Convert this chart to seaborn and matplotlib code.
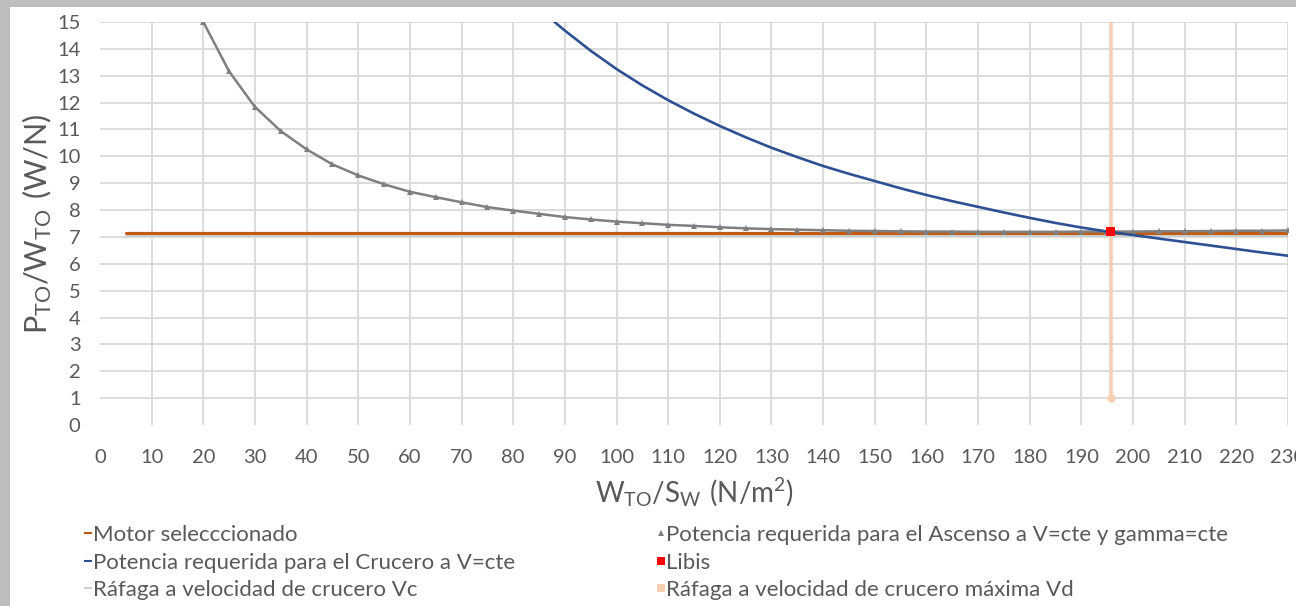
import seaborn as sns
import matplotlib.pyplot as plt
import pandas as pd
from matplotlib.lines import Line2D
from matplotlib.patches import Rectangle

# values
ascenso_x = [20, 25, 30, 35, 40, 45, 50, 55, 60, 65, 70, 75, 80, 85, 90, 95, 100, 105, 110, 115,
             120, 125, 130, 135, 140, 145, 150, 155, 160, 165, 170, 175, 180, 185, 190, 195, 200,
             205, 210, 215, 220, 225, 230]
ascenso_y = [15.0, 13.16, 11.84, 10.94, 10.26, 9.70, 9.29, 8.96, 8.68, 8.48, 8.29, 8.11, 7.98, 7.86,
             7.74, 7.65, 7.57, 7.51, 7.45, 7.41, 7.36, 7.32, 7.29, 7.27, 7.25, 7.23, 7.22, 7.21, 7.20,
             7.20, 7.19, 7.19, 7.19, 7.19, 7.20, 7.20, 7.20, 7.21, 7.21, 7.22, 7.23, 7.23, 7.24]

crucero_x = [88, 90, 95, 100, 105, 110, 115, 120, 125, 130, 135, 140, 145, 150, 155, 160, 165, 170,
             175, 180, 185, 190, 195, 200, 205, 210, 215, 220, 225, 230]
crucero_y = [15.0, 14.68, 13.93, 13.25, 12.64, 12.09, 11.59, 11.13, 10.71, 10.32, 9.97, 9.64, 9.35,
             9.08, 8.81, 8.56, 8.33, 8.12, 7.91, 7.71, 7.52, 7.35, 7.20, 7.07, 6.94, 6.81, 6.68,
             6.55, 6.42, 6.30]

motor_x = [5, 230]
motor_y = [7.16, 7.16]

vc_x = [5, 230]
vc_y = [7.04, 7.04]

vd_x = [195.7, 195.7]
vd_y = [1.0, 16.0]

libis_x = [195.7]
libis_y = [7.2]

x_ticks = list(range(0, 240, 10))
y_ticks = list(range(0, 16))

labels = ["Motor selecccionado",
          "Potencia requerida para el Ascenso a V=cte y gamma=cte",
          "Potencia requerida para el Crucero a V=cte",
          "Libis",
          "Ráfaga a velocidad de crucero Vc",
          "Ráfaga a velocidad de crucero máxima Vd"]

c_motor = "#C55A11"
c_asc = "#7F7F7F"
c_cru = "#2F4F93"
c_vc = "#C3D1D3"
c_libis = "#FF0000"
c_vd = "#F6CFB2"
txt = "#595959"

sns.set_theme(style="white")
plt.rcParams['font.family'] = ['Lato', 'DejaVu Sans']
plt.rcParams['mathtext.fontset'] = 'custom'
plt.rcParams['mathtext.rm'] = 'Lato'

fig = plt.figure(figsize=(12.96, 6.06), dpi=100, facecolor="#BDBDBD")
fig.patches.append(Rectangle((10 / 1296, 0), 1, 1 - 7 / 606, transform=fig.transFigure,
                             facecolor="white", edgecolor="none", zorder=-10))

ax = fig.add_axes([100 / 1296, 1 - 425 / 606, 1188 / 1296, 403 / 606])
ax.set_zorder(2)
ax.set_facecolor("none")

df_asc = pd.DataFrame({"x": ascenso_x, "y": ascenso_y})
df_cru = pd.DataFrame({"x": crucero_x, "y": crucero_y})

ax.plot(vc_x, vc_y, color=c_vc, lw=1.2, zorder=2)
ax.plot(motor_x, motor_y, color=c_motor, lw=2.3, zorder=3)
sns.lineplot(data=df_asc, x="x", y="y", ax=ax, color=c_asc, lw=1.8, marker="^",
             markersize=4.5, markeredgewidth=0, estimator=None, sort=False, zorder=4)
sns.lineplot(data=df_cru, x="x", y="y", ax=ax, color=c_cru, lw=1.9,
             estimator=None, sort=False, zorder=5)
ax.plot(vd_x, vd_y, color=c_vd, lw=2.6, zorder=3)
ax.plot(vd_x[:1], vd_y[:1], "o", color=c_vd, ms=5, zorder=3)
sns.scatterplot(x=libis_x, y=libis_y, ax=ax, color=c_libis, marker="s", s=40,
                edgecolor="none", zorder=6)

ax.set_xlim(0, 230)
ax.set_ylim(0, 15)
ax.set_xticks(x_ticks)
ax.set_yticks(y_ticks)
ax.grid(True, color="#D9D9D9", lw=1.3)
ax.set_axisbelow(True)
ax.get_xgridlines()[0].set_visible(False)
ax.get_ygridlines()[0].set_visible(False)
for s in ax.spines.values():
    s.set_visible(False)
ax.tick_params(axis="x", length=0, pad=17, labelsize=14.5, labelcolor=txt)
ax.tick_params(axis="y", length=0, pad=14, labelsize=14.5, labelcolor=txt)

ax.set_xlabel(r"$\mathregular{W_{TO}/S_W\ (N/m^2)}$", fontsize=20, color=txt, labelpad=7)
ax.set_ylabel(r"$\mathregular{P_{TO}/W_{TO}\ (W/N)}$", fontsize=22, color=txt, labelpad=2)


def handle(color, marker):
    return Line2D([], [], color=color, marker=marker, linestyle="none", markersize=6,
                  markeredgewidth=0 if marker == "s" else 1.5)


left_h = [handle(c_motor, "_"), handle(c_cru, "_"), handle(c_vc, "_")]
right_h = [handle(c_asc, "^"), handle(c_libis, "s"), handle(c_vd, "s")]
right_h[0] = Line2D([], [], color=c_asc, marker="^", linestyle="none", markersize=4,
                    markeredgewidth=0)

leg_kw = dict(frameon=False, fontsize=16, labelcolor=txt, handlelength=0.4,
              handletextpad=0.05, labelspacing=0.34, borderpad=0, loc="upper left")
leg1 = fig.legend(left_h, [labels[0], labels[2], labels[4]],
                  bbox_to_anchor=(72 / 1296, 1 - 514 / 606), **leg_kw)
leg2 = fig.legend(right_h, [labels[1], labels[3], labels[5]],
                  bbox_to_anchor=(645 / 1296, 1 - 514 / 606), **leg_kw)

fig.savefig("out.png", dpi=100, facecolor=fig.get_facecolor())
